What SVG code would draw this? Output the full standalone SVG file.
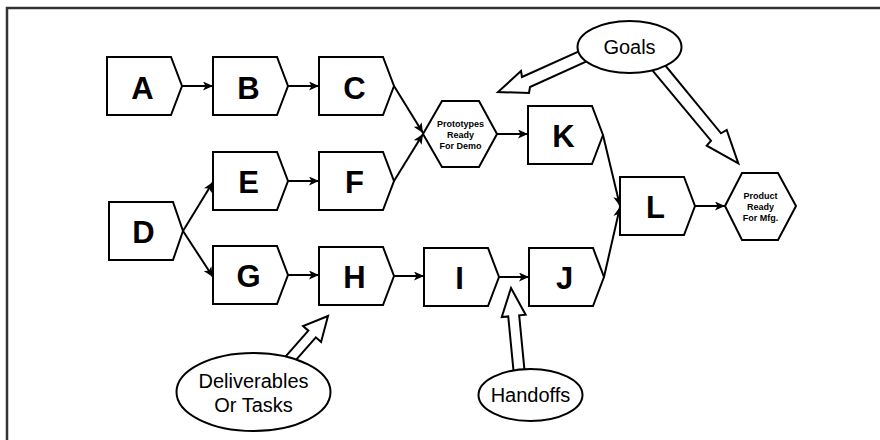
<svg xmlns="http://www.w3.org/2000/svg" width="880" height="440" viewBox="0 0 880 440">
<style>
.node{fill:#fff;stroke:#000;stroke-width:2}
.lbl{font-family:"Liberation Sans",Arial,sans-serif;font-weight:bold;font-size:31px;text-anchor:middle;fill:#000}
.small{font-family:"Liberation Sans",Arial,sans-serif;font-weight:bold;font-size:9px;text-anchor:middle;fill:#000}
.note{font-family:"Liberation Sans",Arial,sans-serif;font-size:20px;text-anchor:middle;fill:#000}
.conn{fill:none;stroke:#000;stroke-width:2;marker-end:url(#ah)}
.block{fill:#fff;stroke:#000;stroke-width:2;stroke-linejoin:miter}
.oval{fill:#fff;stroke:#000;stroke-width:2}
</style>
<defs>
<marker id="ah" markerUnits="userSpaceOnUse" markerWidth="11" markerHeight="9" refX="10" refY="4.5" orient="auto">
<path d="M0,0 L10,4.5 L0,9 L2.5,4.5 z" fill="#000"/>
</marker>
</defs>
<rect x="7" y="8" width="920" height="500" fill="#fff" stroke="#333" stroke-width="2.5"/>
<g id="connectors">
<path class="conn" d="M182,86 L213,86"/>
<path class="conn" d="M288,86 L319,86"/>
<path class="conn" d="M394,86 L423,133"/>
<path class="conn" d="M394,181 L423,134"/>
<path class="conn" d="M183,231 L213,182"/>
<path class="conn" d="M183,231 L213,277"/>
<path class="conn" d="M288,181 L319,181"/>
<path class="conn" d="M288,275 L319,275"/>
<path class="conn" d="M394,276 L424,276"/>
<path class="conn" d="M499,277 L529,277"/>
<path class="conn" d="M497,134 L528,134"/>
<path class="conn" d="M603,135 L620,206"/>
<path class="conn" d="M604,277 L620,207"/>
<path class="conn" d="M695,206 L725,206"/>
</g>
<g id="callout-arrows">
<polygon class="block" points="590,46.4 522,77 521,71 498,92 529,93 530,87 592,59"/>
<polygon class="block" points="647,63.8 711,140.7 706.7,145.7 738.3,163.3 726.7,130 721,133.3 660,59"/>
<polygon class="block" points="289.45,367.3 315.85,337.3 321.1,341.9 328,316 303.1,326.1 308.35,330.7 281.95,360.7"/>
<polygon class="block" points="524.97,375.07 519.17,315.37 525.64,314.74 511,288 501.76,317.06 508.23,316.43 514.03,376.13"/>
</g>
<g id="A"><path class="node" d="M107,57 h64 l11,29 l-11,29 h-64 z"/><text class="lbl" x="142.5" y="99">A</text></g>
<g id="B"><path class="node" d="M213,57 h64 l11,29 l-11,29 h-64 z"/><text class="lbl" x="248.5" y="99">B</text></g>
<g id="C"><path class="node" d="M319,57 h64 l11,29 l-11,29 h-64 z"/><text class="lbl" x="354.5" y="99">C</text></g>
<g id="E"><path class="node" d="M213,152 h64 l11,29 l-11,29 h-64 z"/><text class="lbl" x="248.5" y="193">E</text></g>
<g id="F"><path class="node" d="M319,152 h64 l11,29 l-11,29 h-64 z"/><text class="lbl" x="354.5" y="193">F</text></g>
<g id="D"><path class="node" d="M109,202 h64 l10,29 l-10,29 h-64 z"/><text class="lbl" x="143.5" y="243">D</text></g>
<g id="G"><path class="node" d="M213,246 h64 l11,29 l-11,29 h-64 z"/><text class="lbl" x="248.5" y="287">G</text></g>
<g id="H"><path class="node" d="M319,247 h64 l11,29 l-11,29 h-64 z"/><text class="lbl" x="354.5" y="288">H</text></g>
<g id="I"><path class="node" d="M424,248 h64 l11,29 l-11,29 h-64 z"/><text class="lbl" x="459.5" y="289">I</text></g>
<g id="J"><path class="node" d="M529,248 h64 l11,29 l-11,29 h-64 z"/><text class="lbl" x="564.5" y="289">J</text></g>
<g id="K"><path class="node" d="M528,106 h64 l11,29 l-11,29 h-64 z"/><text class="lbl" x="563.5" y="147">K</text></g>
<g id="L"><path class="node" d="M620,177 h64 l11,29 l-11,29 h-64 z"/><text class="lbl" x="655.5" y="218">L</text></g>
<g id="prototypes"><polygon class="node" points="423,134 442,101 479,101 497,134 479,167 442,167"/>
<text class="small" x="460.5" y="127">Prototypes</text><text class="small" x="460.5" y="138">Ready</text><text class="small" x="460.5" y="149">For Demo</text></g>
<g id="product"><polygon class="node" points="725,206 742,173 778,173 796,206 778,240 742,240"/>
<text class="small" x="760.5" y="199">Product</text><text class="small" x="760.5" y="210">Ready</text><text class="small" x="760.5" y="221">For Mfg.</text></g>
<g id="goals"><ellipse class="oval" cx="629.5" cy="47" rx="52" ry="26"/><text class="note" x="629.5" y="54">Goals</text></g>
<g id="deliverables"><ellipse class="oval" cx="253.5" cy="392" rx="77" ry="39"/><text class="note" x="253.5" y="388">Deliverables</text><text class="note" x="253.5" y="412">Or Tasks</text></g>
<g id="handoffs"><ellipse class="oval" cx="530.5" cy="395" rx="52" ry="26"/><text class="note" x="530.5" y="402">Handoffs</text></g>
</svg>
